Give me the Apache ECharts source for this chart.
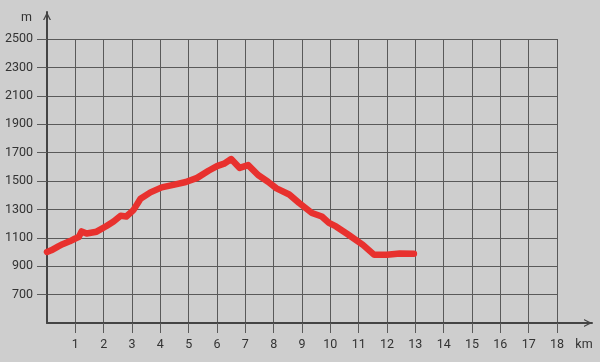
<!DOCTYPE html>
<html><head><meta charset="utf-8">
<script src="https://cdn.jsdelivr.net/npm/echarts@6/dist/echarts.min.js"></script>
<style>html,body{margin:0;padding:0;background:#cecece}#c{width:600px;height:362px}</style>
</head><body><div id="c"></div>
<script>
const distanceKm = [0,0.15,0.4,0.55,0.8,1.0,1.12,1.22,1.4,1.75,2.1,2.35,2.6,2.8,3.05,3.3,3.65,4.05,4.5,4.9,5.3,5.7,6.0,6.25,6.5,6.8,7.1,7.45,7.8,8.1,8.55,8.9,9.35,9.7,9.95,10.2,10.6,11.15,11.55,12.0,12.45,12.95];
const elevationM = [1000,1012,1040,1055,1075,1095,1105,1145,1130,1143,1183,1215,1255,1250,1295,1375,1420,1455,1475,1493,1522,1572,1605,1622,1655,1592,1612,1542,1495,1448,1405,1345,1275,1250,1205,1180,1127,1050,980,980,990,988];
const xTicks = [1,2,3,4,5,6,7,8,9,10,11,12,13,14,15,16,17,18];
const yTicks = [700,900,1100,1300,1500,1700,1900,2100,2300,2500];
const xUnit = 'km', yUnit = 'm';

const chevron = 'path://M0,10 L5,0 L10,10 L8.3,10 L5,3.4 L1.7,10 Z';
const gridColor = '#5a5a5a', axisColor = '#444', textColor = '#333';
const font = 'Roboto, sans-serif';
const fs = 12.5;

const chart = echarts.init(document.getElementById('c'), null, {renderer:'canvas'});
chart.setOption({
  backgroundColor: '#cecece',
  animation: false,
  grid: [
    {left:47, top:39, right:43, bottom:39, containLabel:false},
    {left:47, top:12, right:8, bottom:39, containLabel:false}
  ],
  xAxis: [
    {type:'value', gridIndex:0, min:0, max:18, interval:1,
     axisLine:{show:false},
     axisTick:{show:true, length:10, customValues:xTicks, lineStyle:{color:gridColor, width:1}},
     axisLabel:{customValues:xTicks, margin:15, color:textColor, fontSize:fs, fontFamily:font, formatter:v=>String(v)},
     splitLine:{show:true, lineStyle:{color:gridColor, width:1}}},
    {type:'value', gridIndex:1, min:0, max:1,
     axisLine:{show:true, symbol:['none', chevron], symbolSize:[10,8], symbolOffset:[0,-4], lineStyle:{color:axisColor, width:2}},
     axisTick:{show:false}, axisLabel:{show:false}, splitLine:{show:false},
     name:xUnit, nameLocation:'end', nameGap:-8,
     nameTextStyle:{align:'center', verticalAlign:'top', padding:[15,0,0,0], color:textColor, fontSize:fs, fontFamily:font}}
  ],
  yAxis: [
    {type:'value', gridIndex:0, min:500, max:2500, interval:200,
     axisLine:{show:false},
     axisTick:{show:true, length:10, customValues:yTicks, lineStyle:{color:gridColor, width:1}},
     axisLabel:{customValues:yTicks, margin:14, color:textColor, fontSize:fs, fontFamily:font, formatter:v=>String(v)},
     splitLine:{show:true, lineStyle:{color:gridColor, width:1}}},
    {type:'value', gridIndex:1, min:0, max:1,
     axisLine:{show:true, symbol:['none', chevron], symbolSize:[10,8], symbolOffset:[0,-4], lineStyle:{color:axisColor, width:2}},
     axisTick:{show:false}, axisLabel:{show:false}, splitLine:{show:false},
     name:yUnit, nameLocation:'end', nameGap:-12,
     nameTextStyle:{align:'right', verticalAlign:'bottom', padding:[0,15,0,0], color:textColor, fontSize:fs, fontFamily:font}}
  ],
  series: [{
    type:'line', xAxisIndex:0, yAxisIndex:0,
    data: distanceKm.map((d,i)=>[d, elevationM[i]]),
    showSymbol:false, smooth:false,
    lineStyle:{color:'#e8312e', width:6.5, join:'round', cap:'round'},
    z:5
  }]
});
</script></body></html>
